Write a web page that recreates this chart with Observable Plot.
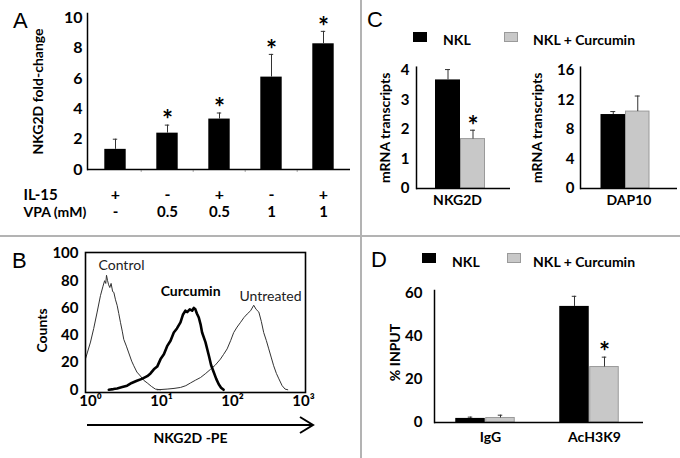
<!DOCTYPE html>
<html><head><meta charset="utf-8">
<script src="https://cdn.jsdelivr.net/npm/d3@7"></script>
<script src="https://cdn.jsdelivr.net/npm/@observablehq/plot@0.6"></script>
<style>
html,body{margin:0;padding:0;background:#fff;}
#root{position:relative;width:680px;height:458px;overflow:hidden;background:#fff;font-family:Lato,"Open Sans",sans-serif;}
.letter{position:absolute;font-family:"Liberation Sans",Arial,sans-serif;font-size:22px;line-height:22px;color:#000;}
.leg{position:absolute;font-family:Lato,sans-serif;font-weight:bold;font-size:14px;line-height:14px;white-space:nowrap;color:#000;}
.sw{position:absolute;width:14px;height:10px;box-sizing:border-box;}
.div-h{position:absolute;left:0;top:235px;width:680px;height:2px;background:#b3b3b3;}
.div-v{position:absolute;left:360px;top:0;width:2px;height:458px;background:#b3b3b3;}
</style></head>
<body><div id="root"></div>
<script>
// ---------- Panel A data ----------
const aConditions = ["c1","c2","c3","c4","c5"];
const aIL15 = ["+","-","+","-","+"];
const aVPA = ["-","0.5","0.5","1","1"];
const aMean = [1.33, 2.4, 3.33, 6.1, 8.3];
const aErr = [0.67, 0.53, 0.4, 1.5, 0.82];
const aSig = [false, true, true, true, true];
const aYTicks = [0, 2, 4, 6, 8, 10];

// ---------- Panel B data (flow cytometry histograms) ----------
const bControlX = [0.82,0.9,1.0,1.11,1.24,1.38,1.5,1.58,1.64,1.68,1.74,1.8,1.87,1.95,2.05,2.13,2.25,2.37,2.5,2.64,2.8,2.94,3.2,3.46,3.8,4.07,4.5,5.06,5.6,6.3,7.2,8.2,9.7];
const bControlY = [20,27,35,45,57,69,76,80,78,84,80,77,75,78,72,71.5,66,62,56,49.5,43,37,32,27,21,17.6,13,10,7,5,2.5,0.5,0];
const bCurcuminX = [1.81,2.1,2.37,2.8,3.28,3.8,4.5,5.3,6.3,7,7.8,8.7,9.7,10.8,12,13.4,14.9,16.5,18.5,20,21.7,23,25,27,28.5,30,31.5,33.5,35.5,37.3,41.6,46.5,50,54.6,59,64,69,75];
const bCurcuminY = [0,0.5,1,2,3,5,6.6,8,10,12,15,17,22.5,26,32,36,42,45,49.5,55,58,57,59,58,60,59,56,53,48,42,35,25,18,12.7,8,4,1.5,0];
const bUntreatedX = [8.7,12,15,18.5,22,25.6,30,35.5,42,49,57,67.6,75,84,94,104,116,130,145,161,180,199,215,235,255,275,300,324,350,380,415,450,500,550,600];
const bUntreatedY = [0,0.5,1,1.7,3,5,7,9,12,15,18,22.5,26,30,36,42,46,49.5,53,55.6,58,62,59,57,50,42,36,30,24,17.6,12,8,3,0.5,0];
const bYTicks = [0, 20, 40, 60, 80, 100];
const bXTicks = [1, 10, 100, 1000];
const bLabelText = ["Control", "Curcumin", "Untreated"];
const bLabelX = [2.73, 25.7, 343];
const bLabelY = [91, 72, 68.5];

// ---------- Panel C data ----------
const cGenes = ["NKG2D", "DAP10"];
const cNKL = [3.67, 10.0];
const cNKLErr = [0.35, 0.4];
const cCur = [1.67, 10.4];
const cCurErr = [0.3, 2.1];
const cSig = [true, false];
const cTicksNKG2D = [0, 1, 2, 3, 4];
const cTicksDAP10 = [0, 4, 8, 12, 16];

// ---------- Panel D data ----------
const dGroups = ["IgG", "AcH3K9"];
const dNKL = [1.9, 54.0];
const dNKLErr = [0.6, 4.7];
const dCur = [2.1, 25.8];
const dCurErr = [1.3, 4.6];
const dSig = [false, true];
const dYTicks = [0, 20, 40, 60];

const seriesNames = ["NKL", "NKL + Curcumin"];
const BLACK = "#000", GRAY = "#c8c8c8", GRAY_STROKE = "#9a9a9a", ERR = "#333";

const root = document.getElementById("root");
function place(node, left, top) {
  node.style.position = "absolute";
  node.style.left = left + "px";
  node.style.top = top + "px";
  root.appendChild(node);
}
const baseStyle = {fontFamily: "Lato, sans-serif", fontWeight: "bold", fontSize: "15px", color: "#000", background: "transparent", overflow: "visible"};

function yTickLabels(ticks, pad, size) {
  return Plot.text(ticks, {y: d => d, text: d => String(d), frameAnchor: "left", textAnchor: "end", dx: -pad, fontSize: size});
}
function yTitle(label, dx, dy, size) {
  return Plot.text([label], {frameAnchor: "left", textAnchor: "middle", lineAnchor: "middle", dx, dy, rotate: -90, fontSize: size});
}

// ---------- Panel A ----------
(function () {
  const width = 350, height = 230, mL = 87, mR = 0, mT = 13, mB = 61;
  const bw = (width - mL - mR) / aConditions.length;
  const barW = 22, capW = 5;
  const data = aConditions.map((c, i) => ({c, il15: aIL15[i], vpa: aVPA[i], mean: aMean[i], top: aMean[i] + aErr[i], sig: aSig[i]}));
  const p = Plot.plot({
    width, height, marginLeft: mL, marginRight: mR, marginTop: mT, marginBottom: mB,
    style: baseStyle,
    x: {domain: aConditions, padding: 0, axis: null},
    y: {domain: [0, 10.3], axis: null},
    marks: [
      yTickLabels(aYTicks, 5, 16),
      Plot.barY(data, {x: "c", y: "mean", fill: BLACK, insetLeft: (bw - barW) / 2, insetRight: (bw - barW) / 2}),
      Plot.ruleX(data, {x: "c", y1: "mean", y2: "top", stroke: ERR, strokeWidth: 1}),
      Plot.tickY(data, {x: "c", y: "top", stroke: ERR, strokeWidth: 1, insetLeft: (bw - capW) / 2, insetRight: (bw - capW) / 2}),
      Plot.text(data.filter(d => d.sig), {x: "c", y: "top", text: () => "*", dy: -4, fontSize: 26}),
      Plot.ruleX(aConditions.slice(1), {x: d => d, dx: -bw / 2, y1: 0, y2: -0.2, stroke: "#aaa"}),
      Plot.ruleY([0], {stroke: "#000", strokeWidth: 1.5}),
      Plot.frame({anchor: "left", stroke: "#000", strokeWidth: 1.5}),
      Plot.text(data, {x: "c", text: "il15", frameAnchor: "bottom", dy: 30, fontSize: 16}),
      Plot.text(data, {x: "c", text: "vpa", frameAnchor: "bottom", dy: 47, fontSize: 15}),
      Plot.text(["IL-15"], {frameAnchor: "bottom-left", dx: -64, dy: 30, textAnchor: "start", fontSize: 15}),
      Plot.text(["VPA (mM)"], {frameAnchor: "bottom-left", dx: -64, dy: 47, textAnchor: "start", fontSize: 14}),
      yTitle("NKG2D fold-change", -49, 0, 14)
    ]
  });
  place(p, 0, 0);
})();

// ---------- Panel B ----------
(function () {
  const sup = ["\u2070", "\u00b9", "\u00b2", "\u00b3"];
  const control = bControlX.map((x, i) => ({x, y: bControlY[i]}));
  const curcumin = bCurcuminX.map((x, i) => ({x, y: bCurcuminY[i]}));
  const untreated = bUntreatedX.map((x, i) => ({x, y: bUntreatedY[i]}));
  const labels = bLabelText.map((t, i) => ({t, x: bLabelX[i], y: bLabelY[i]}));
  const p = Plot.plot({
    width: 340, height: 218, marginLeft: 85, marginRight: 35, marginTop: 12, marginBottom: 66,
    style: baseStyle,
    x: {type: "log", domain: [0.85, 1067], axis: null},
    y: {domain: [-2, 100.7], axis: null},
    marks: [
      yTickLabels(bYTicks, 7, 15),
      Plot.axisX({ticks: bXTicks, tickSize: 0, tickPadding: 3, label: null, tickFormat: d => "10" + sup[Math.round(Math.log10(d))]}),
      Plot.line(control, {x: "x", y: "y", stroke: "#333", strokeWidth: 1, clip: true}),
      Plot.line(untreated, {x: "x", y: "y", stroke: "#333", strokeWidth: 1, clip: true}),
      Plot.line(curcumin, {x: "x", y: "y", stroke: "#000", strokeWidth: 2.6, clip: true}),
      Plot.frame({stroke: "#000", strokeWidth: 1.6}),
      Plot.text(labels.filter(d => d.t !== "Curcumin"), {x: "x", y: "y", text: "t", fontWeight: "normal", fontSize: 14, fill: "#222"}),
      Plot.text(labels.filter(d => d.t === "Curcumin"), {x: "x", y: "y", text: "t", fontWeight: "bold", fontSize: 14}),
      yTitle("Counts", -43, 8, 14),
      Plot.text(["NKG2D -PE"], {frameAnchor: "bottom", dx: -5, dy: 50, fontSize: 14})
    ]
  });
  place(p, 0, 240);
  // decorative axis arrow under panel B
  const ns = "http://www.w3.org/2000/svg";
  const s = document.createElementNS(ns, "svg");
  s.setAttribute("width", 240); s.setAttribute("height", 24);
  s.innerHTML = '<path d="M2,12H227" stroke="#000" stroke-width="2" fill="none"/><path d="M215,4L228,12L215,20" stroke="#000" stroke-width="2" fill="none"/>';
  place(s, 85, 413);
})();

// ---------- grouped bar helper (panels C, D) ----------
function grouped(opts) {
  const {groups, nkl, nklErr, cur, curErr, sig, yDomain, yTicks, width, height, mL, mR, mT, mB,
         barW, shift, tickPadding, ylabel, ylabelDx, ylabelDy, xTickPadding, xDx} = opts;
  const bw = (width - mL - mR) / groups.length;
  const capW = 5;
  const data = groups.map((g, i) => ({g, nkl: nkl[i], nklTop: nkl[i] + nklErr[i], cur: cur[i], curTop: cur[i] + curErr[i], sig: sig[i]}));
  const blackDx = shift - barW / 2, grayDx = shift + barW / 2;
  return Plot.plot({
    width, height, marginLeft: mL, marginRight: mR, marginTop: mT, marginBottom: mB,
    style: baseStyle,
    x: {domain: groups, padding: 0, axis: null},
    y: {domain: yDomain, axis: null},
    marks: [
      yTickLabels(yTicks, tickPadding, 15),
      Plot.axisX({tickSize: 0, tickPadding: xTickPadding, label: null, dx: xDx, fontSize: 14}),
      Plot.barY(data, {x: "g", y: "nkl", fill: BLACK, insetLeft: bw / 2 + shift - barW, insetRight: bw / 2 - shift}),
      Plot.barY(data, {x: "g", y: "cur", fill: GRAY, stroke: GRAY_STROKE, strokeWidth: 1, insetLeft: bw / 2 + shift + 0.5, insetRight: bw / 2 - shift - barW + 0.5}),
      Plot.ruleX(data, {x: "g", y1: "nkl", y2: "nklTop", dx: blackDx, stroke: ERR}),
      Plot.tickY(data, {x: "g", y: "nklTop", dx: blackDx, stroke: ERR, insetLeft: (bw - capW) / 2, insetRight: (bw - capW) / 2}),
      Plot.ruleX(data, {x: "g", y1: "cur", y2: "curTop", dx: grayDx, stroke: ERR}),
      Plot.tickY(data, {x: "g", y: "curTop", dx: grayDx, stroke: ERR, insetLeft: (bw - capW) / 2, insetRight: (bw - capW) / 2}),
      Plot.text(data.filter(d => d.sig), {x: "g", y: "curTop", text: () => "*", dx: grayDx, dy: -4, fontSize: 26}),
      Plot.ruleY([0], {stroke: "#000", strokeWidth: 1.5}),
      Plot.frame({anchor: "left", stroke: "#000", strokeWidth: 1.5}),
      yTitle(ylabel, ylabelDx, ylabelDy, 14)
    ]
  });
}

// ---------- Panel C ----------
place(grouped({
  groups: [cGenes[0]], nkl: [cNKL[0]], nklErr: [cNKLErr[0]], cur: [cCur[0]], curErr: [cCurErr[0]], sig: [cSig[0]],
  yDomain: [0, 4.1], yTicks: cTicksNKG2D, width: 150, height: 165, mL: 54, mR: 2, mT: 16.7, mB: 27,
  barW: 25, shift: -3, tickPadding: 7, ylabel: "mRNA transcripts", ylabelDx: -31, ylabelDy: 0, xTickPadding: 7, xDx: -6
}), 362, 50);
place(grouped({
  groups: [cGenes[1]], nkl: [cNKL[1]], nklErr: [cNKLErr[1]], cur: [cCur[1]], curErr: [cCurErr[1]], sig: [cSig[1]],
  yDomain: [0, 16.4], yTicks: cTicksDAP10, width: 155, height: 165, mL: 55, mR: 3, mT: 16.7, mB: 27,
  barW: 24.5, shift: -3.5, tickPadding: 6, ylabel: "mRNA transcripts", ylabelDx: -43, ylabelDy: 0, xTickPadding: 7, xDx: 0
}), 525, 50);

// ---------- Panel D ----------
place(grouped({
  groups: dGroups, nkl: dNKL, nklErr: dNKLErr, cur: dCur, curErr: dCurErr, sig: dSig,
  yDomain: [0, 61.4], yTicks: dYTicks, width: 318, height: 178, mL: 72, mR: 37, mT: 10, mB: 36,
  barW: 30, shift: -2, tickPadding: 12, ylabel: "% INPUT", ylabelDx: -39, ylabelDy: -4, xTickPadding: 10, xDx: 3
}), 362, 280);

// ---------- legends, letters, dividers ----------
function legend(top, sq1Left, txt1Left, sq2Left, txt2Left, textTop) {
  const s1 = document.createElement("div"); s1.className = "sw"; s1.style.background = BLACK; place(s1, sq1Left, top);
  const t1 = document.createElement("div"); t1.className = "leg"; t1.textContent = seriesNames[0]; place(t1, txt1Left, textTop);
  const s2 = document.createElement("div"); s2.className = "sw"; s2.style.background = GRAY; s2.style.border = "1px solid " + GRAY_STROKE; place(s2, sq2Left, top);
  const t2 = document.createElement("div"); t2.className = "leg"; t2.textContent = seriesNames[1]; place(t2, txt2Left, textTop);
}
legend(32, 413, 443, 504, 533, 33);
legend(253, 422, 452, 507, 533, 255);

[["A", 13, 10], ["B", 12, 250], ["C", 367, 9], ["D", 371, 249]].forEach(([t, l, tp]) => {
  const d = document.createElement("div"); d.className = "letter"; d.textContent = t; place(d, l, tp);
});
const h = document.createElement("div"); h.className = "div-h"; root.appendChild(h);
const v = document.createElement("div"); v.className = "div-v"; root.appendChild(v);
</script>
</body></html>
